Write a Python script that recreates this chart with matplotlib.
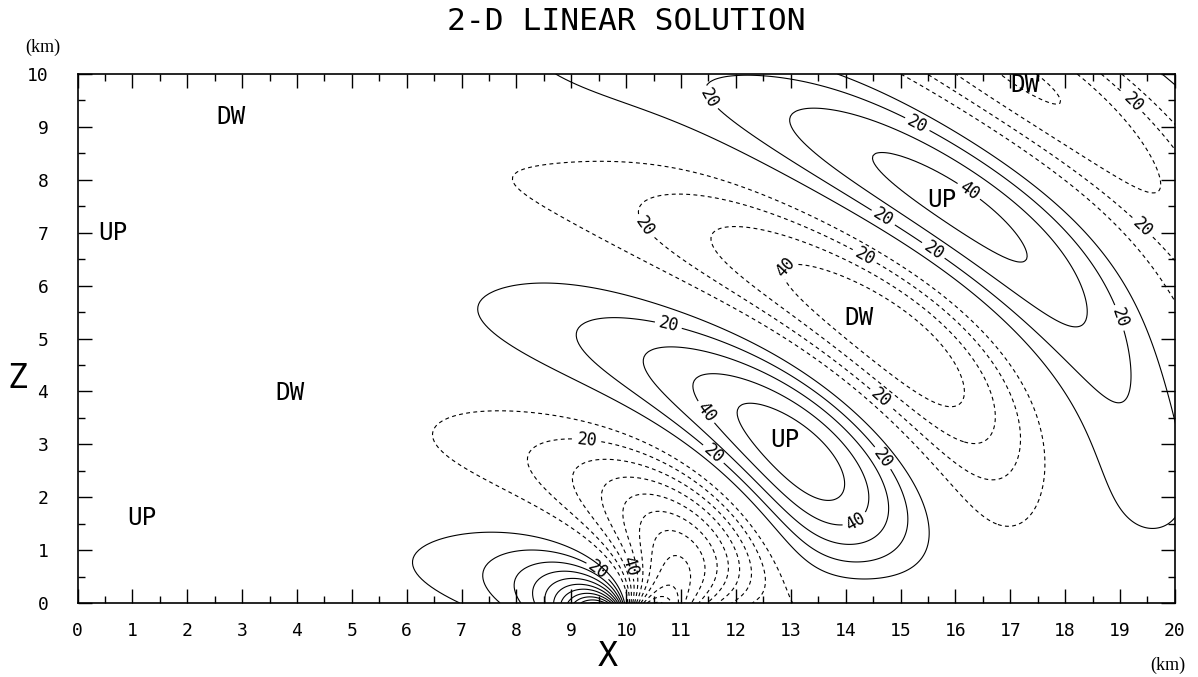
import numpy as np
import matplotlib
matplotlib.use("Agg")
import matplotlib.pyplot as plt
from matplotlib.ticker import MultipleLocator

# linear mountain-wave setup (km)
mountain_x = 10.0       # ridge position
half_width = 1.0        # bell mountain half width
wavelength = 5.25       # 2*pi*U/N, spacing of the UP/DW rings
peak_up = 58.0          # strongest value in the UP lobe near (13, 3)

levels_up = [10, 30, 50, 60, 70, 80, 90, 100, 110, 120, 130, 140, 150]
levels_dw = [-150, -140, -130, -120, -110, -100, -90, -80, -70, -60, -50, -30, -10]
labelled_up = [20, 40]
labelled_dw = [-40, -20]

area_text = ["DW", "UP", "DW", "UP", "UP", "DW", "UP", "DW"]
area_x = [2.79, 0.65, 3.87, 1.18, 12.89, 14.25, 15.75, 17.26]
area_z = [9.19, 6.99, 3.97, 1.61, 3.08, 5.39, 7.62, 9.79]

# where the contour values are written
label_x = [11.03, 15.3, 14.8, 16.3, 15.45, 18.7, 10.8, 11.43, 11.61, 14.76, 14.12, 9.52,
           10.3, 12.5, 14.29, 18.77, 19.17, 9.3, 14.52, 10.24]
label_z = [9.19, 9.04, 7.47, 7.86, 6.45, 5.29, 5.39, 3.59, 2.84, 2.8, 1.66, 0.66,
           7.1, 6.75, 6.45, 8.98, 6.86, 3.12, 3.74, 0.76]

x_ticks = list(range(0, 21))
z_ticks = list(range(0, 11))

# --- steady linear solution w(x, z) for flow over a bell-shaped ridge ---
n = 2 ** 13
dx = 0.025
xs = (np.arange(n) - n // 2) * dx
h = half_width ** 2 / (xs ** 2 + half_width ** 2)
k = 2 * np.pi * np.fft.fftfreq(n, dx)
l = 2 * np.pi / wavelength
m = np.where(np.abs(k) < l,
             np.sign(k) * np.sqrt(np.maximum(l ** 2 - k ** 2, 0.0)),
             1j * np.sqrt(np.maximum(k ** 2 - l ** 2, 0.0)))
wk = 1j * k * np.fft.fft(h)

zs = np.linspace(0, 10, 201)
keep = (xs + mountain_x >= -0.2) & (xs + mountain_x <= 20.2)
X = xs[keep] + mountain_x
W = np.array([np.real(np.fft.ifft(wk * np.exp(1j * m * z)))[keep] for z in zs])

lobe = (X[None, :] > 12) & (X[None, :] < 14) & (zs[:, None] > 2) & (zs[:, None] < 4)
W = W * peak_up / W[lobe].max()

fig = plt.figure(figsize=(11.98, 6.77), dpi=100)
ax = fig.add_axes([0.0647, 0.1093, 0.9160, 0.7814])

mono = "DejaVu Sans Mono"
dash = [(0, (3.5, 3))]
lw = 0.8
ax.contour(X, zs, W, levels=levels_up, colors="black", linewidths=lw, linestyles="solid")
ax.contour(X, zs, W, levels=levels_dw, colors="black", linewidths=lw, linestyles=dash)
cs_up = ax.contour(X, zs, W, levels=labelled_up, colors="black", linewidths=lw,
                   linestyles="solid")
cs_dw = ax.contour(X, zs, W, levels=labelled_dw, colors="black", linewidths=lw,
                   linestyles=dash)

pts = list(zip(label_x, label_z))
lab = ax.clabel(cs_up, manual=pts[:12], fmt="%d", fontsize=12, inline_spacing=3)
lab2 = ax.clabel(cs_dw, manual=pts[12:], fmt=lambda v: "%d" % abs(v),
                 fontsize=12, inline_spacing=3)
for t in list(lab) + list(lab2):
    t.set_family(mono)

for s, x, z in zip(area_text, area_x, area_z):
    ax.text(x, z, s, ha="center", va="center", fontsize=17.5, family=mono)

ax.set_xlim(0, 20)
ax.set_ylim(0, 10)
ax.set_xticks(x_ticks)
ax.set_yticks(z_ticks)
ax.xaxis.set_minor_locator(MultipleLocator(0.5))
ax.yaxis.set_minor_locator(MultipleLocator(0.5))
ax.tick_params(which="both", direction="in", top=True, right=True, width=1.0,
               labelsize=13)
ax.tick_params(axis="x", which="major", length=10, pad=14)
ax.tick_params(axis="y", which="major", length=10, pad=21)
ax.tick_params(which="minor", length=5)
for t in ax.get_xticklabels() + ax.get_yticklabels():
    t.set_family(mono)
for sp in ax.spines.values():
    sp.set_linewidth(1.2)

ax.text(10.0, 11.0, "2-D LINEAR SOLUTION", ha="center", va="center", fontsize=22.5,
        family=mono, clip_on=False)
ax.text(-0.64, 10.51, "(km)", ha="center", va="center", fontsize=13,
        family="Liberation Serif", clip_on=False)
ax.text(19.87, -1.17, "(km)", ha="center", va="center", fontsize=13,
        family="Liberation Serif", clip_on=False)
ax.text(-1.09, 4.25, "Z", ha="center", va="center", fontsize=24, family=mono,
        clip_on=False)
ax.text(9.67, -1.02, "X", ha="center", va="center", fontsize=24, family=mono,
        clip_on=False)

fig.savefig("out.png", dpi=100)
